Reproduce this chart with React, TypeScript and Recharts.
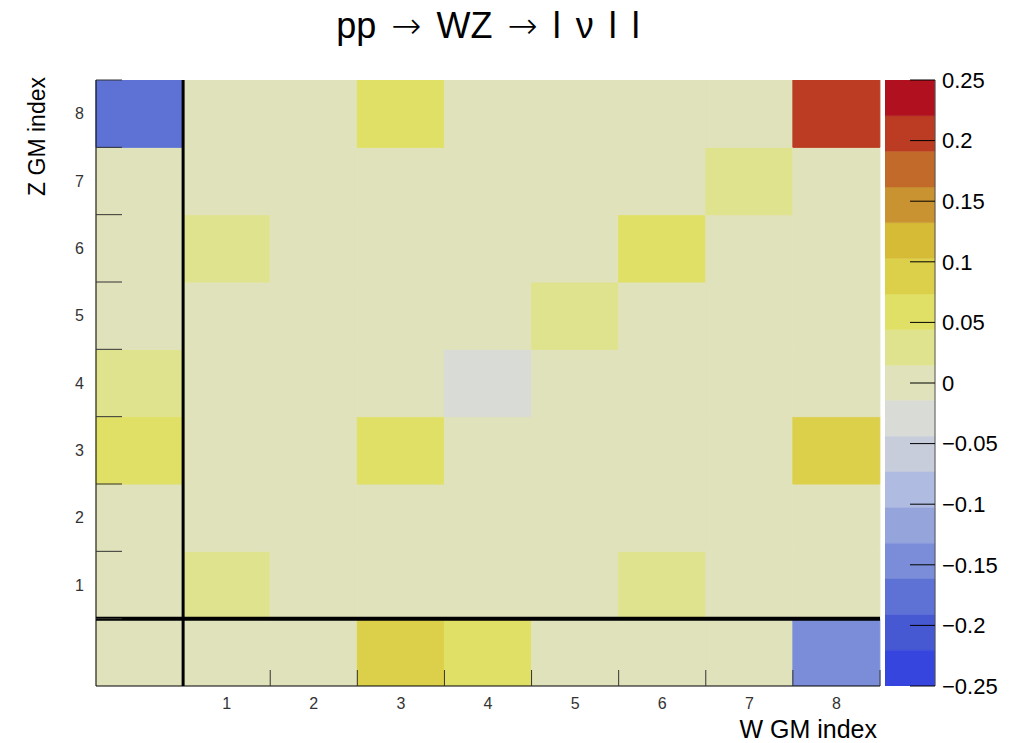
import { Bar, Cell, ComposedChart, ReferenceLine, XAxis, YAxis } from "recharts";

const W = 1021;
const H = 743;
const font = '"Liberation Sans", Arial, sans-serif';

// bin 0 on both axes carries no label
const binNames = ["", "1", "2", "3", "4", "5", "6", "7", "8"];
const wBins = [0, 1, 2, 3, 4, 5, 6, 7, 8];

// one row per Z GM index (bottom to top), one value per W GM index (left to right)
const zRow0 = [0, 0, 0, 0.09, 0.06, 0, 0, 0, -0.15];
const zRow1 = [0, 0.03, 0, 0, 0, 0, 0.03, 0, 0];
const zRow2 = [0, 0, 0, 0, 0, 0, 0, 0, 0];
const zRow3 = [0.06, 0, 0, 0.06, 0, 0, 0, 0, 0.09];
const zRow4 = [0.03, 0, 0, 0, -0.03, 0, 0, 0, 0];
const zRow5 = [0, 0, 0, 0, 0, 0.03, 0, 0, 0];
const zRow6 = [0, 0.03, 0, 0, 0, 0, 0.06, 0, 0];
const zRow7 = [0, 0, 0, 0, 0, 0, 0, 0.03, 0];
const zRow8 = [-0.175, 0, 0, 0.06, 0, 0, 0, 0, 0.205];
const zRows = [zRow0, zRow1, zRow2, zRow3, zRow4, zRow5, zRow6, zRow7, zRow8];

// colour palette, lowest contour first
const palette = [
  "#3545DD", "#4758D3", "#5D72D4", "#7B8DD8", "#95A5DC", "#AFBBE0",
  "#C8CDDB", "#D8DBD6", "#E0E2BB", "#E0E38E", "#E0E066", "#DCCF4A",
  "#D6BB37", "#CA9331", "#C26A2A", "#BB3C22", "#B1111F",
];
const zMin = -0.25;
const zMax = 0.25;
const zTicks = [-0.25, -0.2, -0.15, -0.1, -0.05, 0, 0.05, 0.1, 0.15, 0.2, 0.25];

const step = (zMax - zMin) / palette.length;
const colorFor = (v: number) =>
  palette[Math.min(palette.length - 1, Math.max(0, Math.floor((v - zMin) / step)))];

// every bin is one unit tall, so stacking them builds the grid
const columns = wBins.map((w) => {
  const row: Record<string, number> = { w };
  zRows.forEach((_, k) => (row[`z${k}`] = 1));
  return row;
});

// colour bar: the middle contour straddles 0, so it is split in two halves
const mid = Math.floor(palette.length / 2);
const upper = palette.slice(mid).map((c, i) => ({ key: `p${i}`, c, v: i === 0 ? step / 2 : step }));
const lower = palette
  .slice(0, mid + 1)
  .reverse()
  .map((c, i) => ({ key: `n${i}`, c, v: i === 0 ? -step / 2 : -step }));
const barSegments = [...upper, ...lower];
const colorBarRow = [
  barSegments.reduce<Record<string, number | string>>((r, s) => ((r[s.key] = s.v), r), { name: "z" }),
];

const rowTicks = [1, 1.5, 2, 2.5, 3, 3.5, 4, 4.5, 5, 5.5, 6, 6.5, 7, 7.5, 8, 8.5, 9];
const zLabel = (v: number) => (v < 0 ? "\u2212" + Math.abs(v) : String(v));

function ColTick(props: any) {
  const { x, y, payload, width, visibleTicksCount } = props;
  const half = payload.offset ?? width / visibleTicksCount / 2;
  if (payload.value === 0) return <g />;
  return (
    <g>
      <line x1={x + half} x2={x + half} y1={y} y2={y - 16} stroke="#333" />
      <text x={x} y={y + 23} textAnchor="middle" fontSize={16} fill="#333" fontFamily={font}>
        {binNames[payload.value]}
      </text>
    </g>
  );
}

function RowTick(props: any) {
  const { x, y, payload } = props;
  const v = payload.value as number;
  if (Number.isInteger(v)) {
    return <line x1={x} x2={x + 26} y1={y} y2={y} stroke="#333" />;
  }
  return (
    <text x={x - 12} y={y} dy="0.35em" textAnchor="end" fontSize={16} fill="#333" fontFamily={font}>
      {binNames[Math.floor(v)]}
    </text>
  );
}

function ZTick(props: any) {
  const { x, y, payload } = props;
  return (
    <g>
      <line x1={x - 25} x2={x} y1={y} y2={y} stroke="#000" />
      <text x={x + 7} y={y} dy="0.35em" textAnchor="start" fontSize={22} fill="#000" fontFamily={font}>
        {zLabel(payload.value)}
      </text>
    </g>
  );
}

export default function App() {
  return (
    <div style={{ position: "absolute", left: 0, top: 0, width: W, height: H, background: "#fff" }}>
      <ComposedChart
        width={W}
        height={H}
        data={columns}
        barCategoryGap={0}
        barGap={0}
        margin={{ top: 80, right: 141, bottom: 0, left: 0 }}
        style={{ position: "absolute", left: 0, top: 0 }}
      >
        {zRows.map((row, k) => (
          <Bar key={k} dataKey={`z${k}`} stackId="bins" isAnimationActive={false}>
            {row.map((v, i) => (
              <Cell key={i} fill={colorFor(v)} stroke={colorFor(v)} strokeWidth={1} />
            ))}
          </Bar>
        ))}
        <ReferenceLine x={1} position="start" stroke="#000" strokeWidth={3} />
        <ReferenceLine y={1} stroke="#000" strokeWidth={4} />
        <XAxis
          dataKey="w"
          type="category"
          interval={0}
          height={57}
          tickLine={false}
          tickSize={0}
          tickMargin={0}
          axisLine={{ stroke: "#000" }}
          tick={<ColTick />}
        />
        <YAxis
          type="number"
          domain={[0, 9]}
          allowDataOverflow
          ticks={rowTicks}
          interval={0}
          width={96}
          tickLine={false}
          tickSize={0}
          tickMargin={0}
          axisLine={{ stroke: "#000" }}
          tick={<RowTick />}
        />
      </ComposedChart>

      <ComposedChart
        width={136}
        height={H}
        data={colorBarRow}
        barCategoryGap={0}
        barGap={0}
        stackOffset="sign"
        margin={{ top: 80, right: 0, bottom: 57, left: 0 }}
        style={{ position: "absolute", left: 885, top: 0 }}
      >
        {barSegments.map((s) => (
          <Bar
            key={s.key}
            dataKey={s.key}
            stackId="bar"
            fill={s.c}
            stroke={s.c}
            strokeWidth={0.5}
            isAnimationActive={false}
          />
        ))}
        <XAxis dataKey="name" type="category" hide />
        <YAxis
          orientation="right"
          type="number"
          domain={[zMin, zMax]}
          allowDataOverflow
          ticks={zTicks}
          interval={0}
          width={86}
          tickLine={false}
          tickSize={0}
          tickMargin={0}
          axisLine={{ stroke: "#555" }}
          tick={<ZTick />}
        />
      </ComposedChart>

      <svg width={W} height={H} style={{ position: "absolute", left: 0, top: 0, pointerEvents: "none" }}>
        <text
          x={488}
          y={38}
          textAnchor="middle"
          fontSize={36}
          fontFamily={font}
          fill="#000"
          style={{ wordSpacing: 5 }}
        >
          pp <tspan fontFamily="DejaVu Sans" fontWeight={200}>{"\u2192"}</tspan> WZ{" "}
          <tspan fontFamily="DejaVu Sans" fontWeight={200}>{"\u2192"}</tspan> l {"\u03BD"} l l
        </text>
        <text x={877} y={738} textAnchor="end" fontSize={25} fontFamily={font} fill="#000">
          W GM index
        </text>
        <text
          x={45}
          y={77}
          transform="rotate(-90 45 77)"
          textAnchor="end"
          fontSize={23}
          fontFamily={font}
          fill="#000"
        >
          Z GM index
        </text>
      </svg>
    </div>
  );
}
